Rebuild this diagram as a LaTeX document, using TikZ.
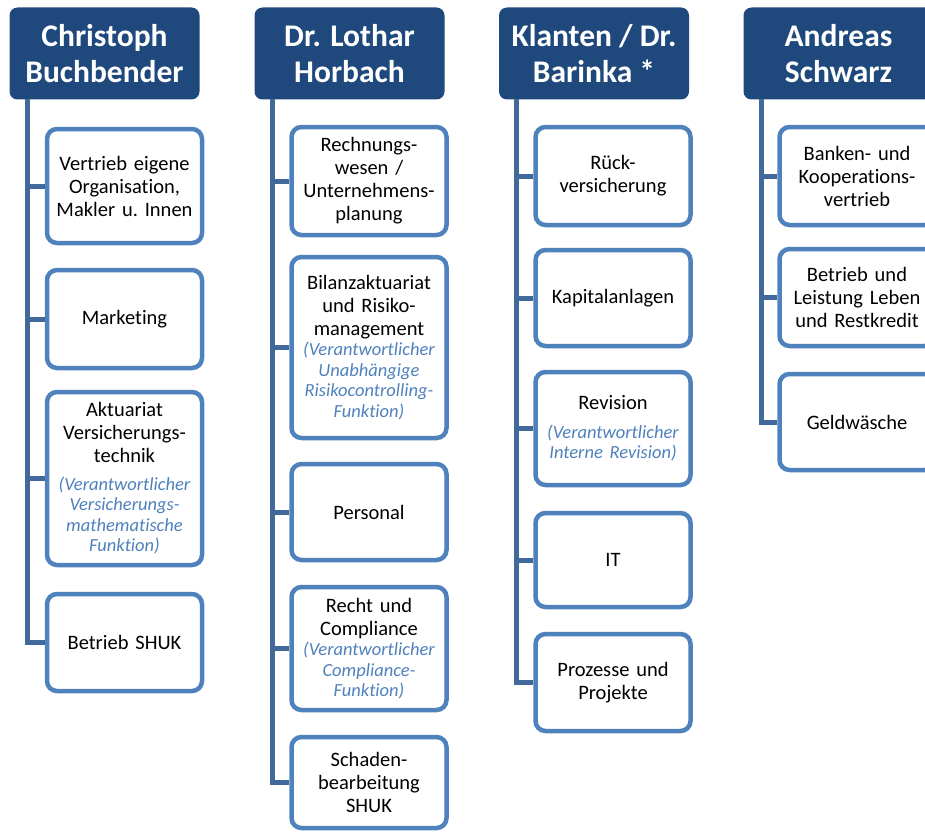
\documentclass[tikz,border=0pt]{standalone}
\usepackage{fontspec}
\setmainfont{Carlito}[Ligatures={NoCommon}]

\definecolor{headblue}{RGB}{31,73,125}
\definecolor{unitblue}{RGB}{79,129,189}
\definecolor{treeblue}{RGB}{65,105,155}

\tikzset{
    head/.style={fill=headblue, rounded corners=8pt, minimum width=190pt, minimum height=92pt,
        inner sep=0pt, align=center, text=white, font=\bfseries\fontsize{31.5}{36}\selectfont},
    unit/.style={draw=unitblue, line width=4.5pt, fill=white, rounded corners=10pt,
        minimum width=155pt, text width=152pt, inner sep=0pt, align=center,
        font=\frenchspacing\fontsize{20.5}{23}\selectfont},
    tree/.style={draw=treeblue, line width=5pt},
}
\newcommand{\resp}[2][0pt]{\par\vspace{#1}{\color{unitblue}\itshape\fontsize{18.5}{20.5}\selectfont #2\par}}

\begin{document}
\begin{tikzpicture}[x=1pt, y=-1pt]
    \useasboundingbox (0,0) rectangle (925,832);
    \clip (0,0) rectangle (925,832);

    % heads
    \begin{scope}[every node/.style={head}]
        \node (h1) at (104.5,53.5) {Christoph\\Buchbender};
        \node (h2) at (349.5,53.5) {Dr. Lothar\\Horbach};
        \node (h3) at (594,53.5) {Klanten / Dr.\\Barinka *};
        \node (h4) at (838.5,53.5) {Andreas\\Schwarz};
    \end{scope}

    % units
    \begin{scope}[every node/.style={unit}]
        \node[minimum height=114pt] (c11) at (124.5,186) {Vertrieb eigene\\Organisation,\\Makler u. Innen};
        \node[minimum height=98pt]  (c12) at (124.5,319) {Marketing};
        \node[minimum height=173pt] (c13) at (124.5,478.5) {Aktuariat\\Versicherungs-\\technik
            \resp[7pt]{(Verantwortlicher\\Versicherungs-\\mathematische\\Funktion)}};
        \node[minimum height=97pt]  (c14) at (124.5,642.5) {Betrieb SHUK};

        \node[minimum height=108pt] (c21) at (369,181) {Rechnungs-\\wesen /\\Unternehmens-\\planung};
        \node[minimum height=181pt] (c22) at (369,347.5) {Bilanzaktuariat\\und Risiko-\\management
            \resp{(Verantwortlicher\\Unabhängige\\Risikocontrolling-\\Funktion)}};
        \node[minimum height=96pt]  (c23) at (369,512) {Personal};
        \node[minimum height=123pt] (c24) at (369,648.5) {Recht und\\Compliance
            \resp{(Verantwortlicher\\Compliance-\\Funktion)}};
        \node[minimum height=91pt]  (c25) at (369,782.5) {Schaden-\\bearbeitung\\SHUK};

        \node[minimum height=98pt]  (c31) at (613,176) {Rück-\\versicherung};
        \node[minimum height=96pt]  (c32) at (613,298) {Kapitalanlagen};
        \node[minimum height=113pt] (c33) at (613,428.5) {Revision
            \resp[8pt]{(Verantwortlicher\\Interne Revision)}};
        \node[minimum height=94pt]  (c34) at (613,560) {IT};
        \node[minimum height=97pt]  (c35) at (613,682.5) {Prozesse und\\Projekte};

        \node[minimum height=98pt]  (c41) at (857,176) {Banken- und\\Kooperations-\\vertrieb};
        \node[minimum height=97pt]  (c42) at (857,297.5) {Betrieb und\\Leistung Leben\\und Restkredit};
        \node[minimum height=96pt]  (c43) at (857,422) {Geldwäsche};
    \end{scope}

    % tree lines
    \coordinate (t1) at (27,99.5);
    \coordinate (t2) at (272,99.5);
    \coordinate (t3) at (516,99.5);
    \coordinate (t4) at (761,99.5);
    \foreach \c in {c11,c12,c13,c14} \draw[tree] (t1) |- (\c.west);
    \foreach \c in {c21,c22,c23,c24,c25} \draw[tree] (t2) |- (\c.west);
    \foreach \c in {c31,c32,c33,c34,c35} \draw[tree] (t3) |- (\c.west);
    \foreach \c in {c41,c42,c43} \draw[tree] (t4) |- (\c.west);
\end{tikzpicture}
\end{document}
